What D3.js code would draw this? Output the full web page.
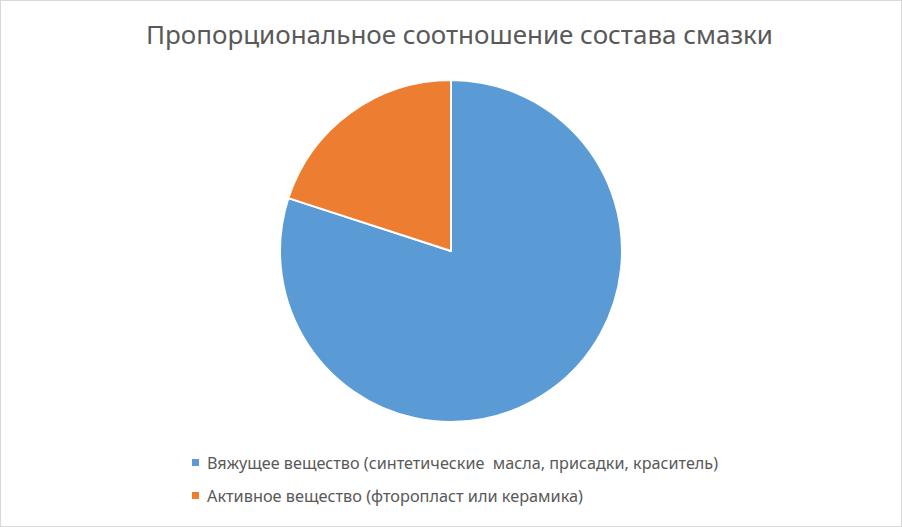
<!DOCTYPE html>
<html>
<head>
<meta charset="utf-8">
<script src="https://cdn.jsdelivr.net/npm/d3@7"></script>
<style>
  html, body { margin: 0; padding: 0; background: #fff; }
  svg { display: block; }
  text { white-space: pre; }
</style>
</head>
<body>
<div id="chart"></div>
<script>
const title = 'Пропорциональное соотношение состава смазки';
const categories = [
  'Вяжущее вещество (синтетические  масла, присадки, краситель)',
  'Активное вещество (фторопласт или керамика)'
];
const values = [80, 20];
const colors = ['#5B9BD5', '#ED7D31'];

const W = 902, H = 527;
const svg = d3.select('#chart').append('svg').attr('width', W).attr('height', H);

svg.append('rect')
  .attr('x', 0.5).attr('y', 0.5).attr('width', W - 1).attr('height', H - 1)
  .attr('fill', '#fff').attr('stroke', '#d9d9d9');

const font = 'Noto Sans, Open Sans, sans-serif';

svg.append('text')
  .attr('x', 146).attr('y', 44)
  .attr('font-family', font).attr('font-size', 25)
  .attr('fill', '#595959')
  .attr('textLength', 627).attr('lengthAdjust', 'spacingAndGlyphs')
  .text(title);

const cx = 451, cy = 251, r = 171;
const pie = d3.pie().sort(null)(values);
const arc = d3.arc().innerRadius(0).outerRadius(r);

svg.append('g').attr('transform', `translate(${cx},${cy})`)
  .selectAll('path').data(pie).join('path')
  .attr('d', arc)
  .attr('fill', (d, i) => colors[i])
  .attr('stroke', '#fff').attr('stroke-width', 2)
  .attr('stroke-linejoin', 'round');

const legendY = [463, 496];
const legendW = [511, 376];
const lg = svg.append('g');
categories.forEach((c, i) => {
  lg.append('rect')
    .attr('x', 192).attr('y', legendY[i] - 4).attr('width', 7).attr('height', 7)
    .attr('fill', colors[i]);
  lg.append('text')
    .attr('x', 207).attr('y', legendY[i] + 6)
    .attr('font-family', font).attr('font-size', 17)
    .attr('fill', '#595959')
    .attr('textLength', legendW[i]).attr('lengthAdjust', 'spacingAndGlyphs')
    .text(c);
});
</script>
</body>
</html>
